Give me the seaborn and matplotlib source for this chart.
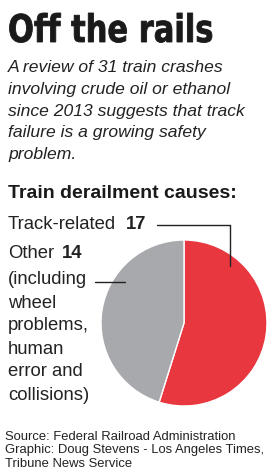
import matplotlib
matplotlib.use("Agg")
import matplotlib.pyplot as plt
import seaborn as sns
from matplotlib.textpath import TextPath
from matplotlib.patches import PathPatch
from matplotlib.font_manager import FontProperties
from matplotlib.path import Path
import numpy as np

categories = ["Track-related", "Other"]
values = [17, 14]
colors = ["#e8373f", "#a8a9ac"]

sns.set_theme(style="white")
plt.rcParams['font.family'] = ['Liberation Sans', 'DejaVu Sans']

W, H = 269, 475
fig = plt.figure(figsize=(W/100, H/100), dpi=100)
fig.patch.set_facecolor("white")

def T(x, y, s, **kw):
    fig.text(x/W, 1 - y/H, s, **kw)

# condensed heavy title via scaled text path
tp = TextPath((0, 0), "Off the rails", size=40,
              prop=FontProperties(family="DejaVu Sans", weight="bold"))
v = tp.vertices.copy()
x0, x1 = v[:, 0].min(), v[:, 0].max()
y1 = v[:, 1].max()
px_left, px_right, px_top, px_base = 8, 212, 13, 42
sx = (px_right - px_left) / (x1 - x0)
sy = (px_base - px_top) / y1
vx = px_left + (v[:, 0] - x0) * sx
vy = px_base - v[:, 1] * sy
fv = np.column_stack([vx / W, 1 - vy / H])
fig.add_artist(PathPatch(Path(fv, tp.codes), transform=fig.transFigure,
                         facecolor="#1a1a1a", edgecolor="#1a1a1a", linewidth=0.6))

sub = ["A review of 31 train crashes", "involving crude oil or ethanol",
       "since 2013 suggests that track", "failure is a growing safety", "problem."]
for i, line in enumerate(sub):
    T(8, 68 + i*21.6, line, fontsize=12.6, style="italic", va="center", ha="left", color="#222222")

T(8, 193, "Train derailment causes:", fontsize=14.0, fontweight="bold", va="center", color="#1a1a1a")

# pie
cx, cy, r = 184, 323, 83
ax = fig.add_axes([(cx - r)/W, 1 - (cy + r)/H, 2*r/W, 2*r/H])
ax.pie(values, colors=colors, startangle=90, counterclock=False,
       wedgeprops=dict(linewidth=1, edgecolor="white"))
ax.set_aspect("equal")
ax.set_xlim(-1, 1); ax.set_ylim(-1, 1)
ax.axis("off")

# labels
T(8, 225, categories[0], fontsize=13.3, va="center", ha="left", color="#222222")
T(126, 225, str(values[0]), fontsize=13.3, fontweight="bold", va="center", color="#222222")
T(8, 253, categories[1], fontsize=13.3, va="center", color="#222222")
T(62, 253, str(values[1]), fontsize=13.3, fontweight="bold", va="center", color="#222222")
other_lines = ["(including", "wheel", "problems,", "human", "error and", "collisions)"]
for i, line in enumerate(other_lines):
    T(8, 280 + i*23.0, line, fontsize=13.3, va="center", color="#222222")

line_kw = dict(color="#222222", linewidth=1, transform=fig.transFigure)
fig.add_artist(plt.Line2D([157/W, 230/W], [1-225/H, 1-225/H], **line_kw))
fig.add_artist(plt.Line2D([230/W, 230/W], [1-225/H, 1-266/H], **line_kw))
fig.add_artist(plt.Line2D([95/W, 125/W], [1-282/H, 1-282/H], **line_kw))

src = ["Source: Federal Railroad Administration",
       "Graphic: Doug Stevens - Los Angeles Times,",
       "Tribune News Service"]
for i, line in enumerate(src):
    T(5, 437 + i*13.5, line, fontsize=9.35, va="center", color="#222222")

fig.savefig("out.png", dpi=100, facecolor="white")
